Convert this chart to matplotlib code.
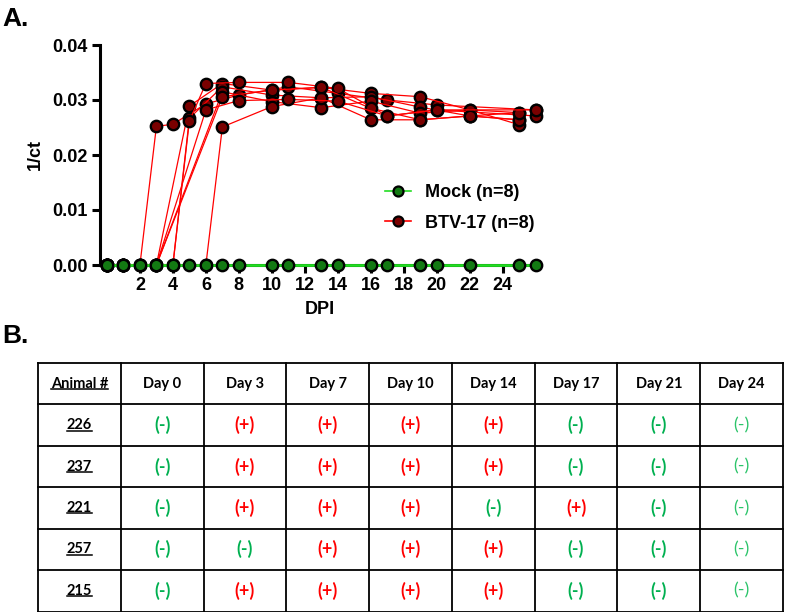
import matplotlib
matplotlib.use("Agg")
import matplotlib.pyplot as plt
from matplotlib.lines import Line2D

# ---- donnees du graphique A ----
mock_days = [0, 1, 2, 3, 4, 5, 6, 7, 8, 10, 11, 13, 14, 16, 17, 19, 20, 22, 25, 26]
mock_vals = [0, 0, 0, 0, 0, 0, 0, 0, 0, 0, 0, 0, 0, 0, 0, 0, 0, 0, 0, 0]

btv_days = [
    [0, 1, 2, 3, 4, 6, 8, 11, 14, 17, 20, 26],
    [0, 1, 3, 5, 7, 10, 13, 16, 19, 22, 25],
    [0, 1, 4, 5, 7, 10, 13, 16, 19, 22, 25],
    [0, 1, 3, 7, 10, 13, 16, 19, 22, 25],
    [0, 1, 3, 6, 7, 10, 13, 16, 19, 22, 25],
    [0, 2, 4, 5, 6, 8, 11, 14, 17, 20, 26],
    [0, 1, 3, 7, 10, 13, 16, 19, 22, 25],
    [0, 2, 3, 6, 8, 11, 14, 17, 20, 26],
]
btv_vals = [
    [0, 0, 0, 0.0252, 0.0256, 0.0293, 0.0309, 0.0324, 0.0312, 0.0300, 0.0291, 0.0282],
    [0, 0, 0, 0.0289, 0.0330, 0.0318, 0.0323, 0.0312, 0.0306, 0.0282, 0.0277],
    [0, 0, 0, 0.0267, 0.0324, 0.0309, 0.0304, 0.0306, 0.0287, 0.0271, 0.0264],
    [0, 0, 0, 0.0315, 0.0297, 0.0286, 0.0298, 0.0276, 0.0282, 0.0255],
    [0, 0, 0, 0, 0.0251, 0.0288, 0.0304, 0.0264, 0.0264, 0.0271, 0.0264],
    [0, 0, 0, 0.0262, 0.0330, 0.0332, 0.0332, 0.0321, 0.0271, 0.0282, 0.0271],
    [0, 0, 0, 0.0306, 0.0318, 0.0323, 0.0285, 0.0264, 0.0271, 0.0277],
    [0, 0, 0, 0.0282, 0.0299, 0.0301, 0.0298, 0.0271, 0.0282, 0.0282],
]
x_ticks = [2, 4, 6, 8, 10, 12, 14, 16, 18, 20, 22, 24]
y_ticks = [0.00, 0.01, 0.02, 0.03, 0.04]

# ---- donnees du tableau B ----
col_labels = ["Animal #", "Day 0", "Day 3", "Day 7", "Day 10", "Day 14", "Day 17", "Day 21", "Day 24"]
animals = ["226", "237", "221", "257", "215"]
results = [
    ["-", "+", "+", "+", "+", "-", "-", "-"],
    ["-", "+", "+", "+", "+", "-", "-", "-"],
    ["-", "+", "+", "+", "-", "+", "-", "-"],
    ["-", "-", "+", "+", "+", "-", "-", "-"],
    ["-", "+", "+", "+", "+", "-", "-", "-"],
]

plt.rcParams['font.family'] = ['Liberation Sans', 'DejaVu Sans']

W, H = 785, 612
fig = plt.figure(figsize=(W / 100, H / 100), dpi=100)

# ----- graphique A -----
ax = fig.add_axes([100 / W, (H - 265) / H, 440 / W, 220 / H])

for d, v in zip(btv_days, btv_vals):
    ax.plot(d, v, color='#ff0000', lw=0.9, marker='o', ms=8.2,
            mfc='#7a0000', mec='black', mew=1.7, clip_on=False, zorder=3)
ax.plot(mock_days, mock_vals, color='#22dd22', lw=2.0, marker='o', ms=8.2,
        mfc='#137a13', mec='black', mew=1.7, clip_on=False, zorder=4)

ax.set_xlim(-0.42, 26.26)
ax.set_ylim(0, 0.04)
ax.set_xticks(x_ticks)
ax.set_yticks(y_ticks)
ax.set_yticklabels(["%.2f" % t for t in y_ticks])
for s in ['top', 'right']:
    ax.spines[s].set_visible(False)
for s in ['left', 'bottom']:
    ax.spines[s].set_linewidth(2.2)
ax.tick_params(axis='both', length=6, width=2.2, labelsize=13, pad=3)
for lab in ax.get_xticklabels() + ax.get_yticklabels():
    lab.set_fontweight('bold')
ax.set_xlabel("DPI", fontsize=13, fontweight='bold', labelpad=5)
ax.set_ylabel("1/ct", fontsize=13, fontweight='bold', labelpad=6)

handles = [
    Line2D([], [], color='#22dd22', lw=1.2, marker='o', ms=7.2, mfc='#137a13', mec='black', mew=1.6),
    Line2D([], [], color='#ff0000', lw=1.2, marker='o', ms=7.2, mfc='#7a0000', mec='black', mew=1.6),
]
fig.legend(handles, ["Mock (n=8)", "BTV-17 (n=8)"], loc='upper left',
           bbox_to_anchor=(369 / W, (H - 168) / H), frameon=False,
           prop={'weight': 'bold', 'size': 13}, handlelength=1.4,
           handletextpad=0.8, labelspacing=0.75)

fig.text(2 / W, (H - 26) / H, "A.", fontsize=19, fontweight='bold')
fig.text(2 / W, (H - 343) / H, "B.", fontsize=19, fontweight='bold')

# ----- tableau B -----
tx0, tx1, ty0, ty1 = 38, 783, 363, 611.5
axt = fig.add_axes([tx0 / W, (H - ty1) / H, (tx1 - tx0) / W, (ty1 - ty0) / H])
ncol = len(col_labels)
nrow = len(animals) + 1
axt.set_xlim(0, ncol)
axt.set_ylim(nrow, 0)
axt.axis('off')
for i in range(ncol + 1):
    axt.plot([i, i], [0, nrow], color='black', lw=1.3, clip_on=False)
for j in range(nrow + 1):
    axt.plot([0, ncol], [j, j], color='black', lw=1.3, clip_on=False)

tfont = ['Lato', 'DejaVu Sans']
underlined = []
for i, lab in enumerate(col_labels):
    t = axt.text(i + 0.5, 0.5, lab, ha='center', va='center', fontsize=10.5,
                 fontweight='bold', family=tfont)
    if i == 0:
        underlined.append(t)
for r, (a, row) in enumerate(zip(animals, results)):
    t = axt.text(0.5, r + 1.5, a, ha='center', va='center', fontsize=10.5,
                 fontweight='bold', family=tfont)
    underlined.append(t)
    for c, val in enumerate(row):
        col = '#ff0000' if val == '+' else '#00b050'
        w = 'bold'
        if c == len(row) - 1:
            col = '#2cc46a'
            w = 'normal'
        axt.text(c + 1.5, r + 1.5, "(" + val + ")", ha='center', va='center',
                 fontsize=13, fontweight=w, color=col, family=tfont)

fig.canvas.draw()
rend = fig.canvas.get_renderer()
inv = fig.transFigure.inverted()
for t in underlined:
    bb = t.get_window_extent(rend)
    (x0, y0), (x1, _) = inv.transform([[bb.x0, bb.y0 + 1.5], [bb.x1, bb.y0 + 1.5]])
    fig.add_artist(Line2D([x0, x1], [y0, y0], color='black', lw=1.1,
                          transform=fig.transFigure))

fig.savefig("out.png", dpi=100)
